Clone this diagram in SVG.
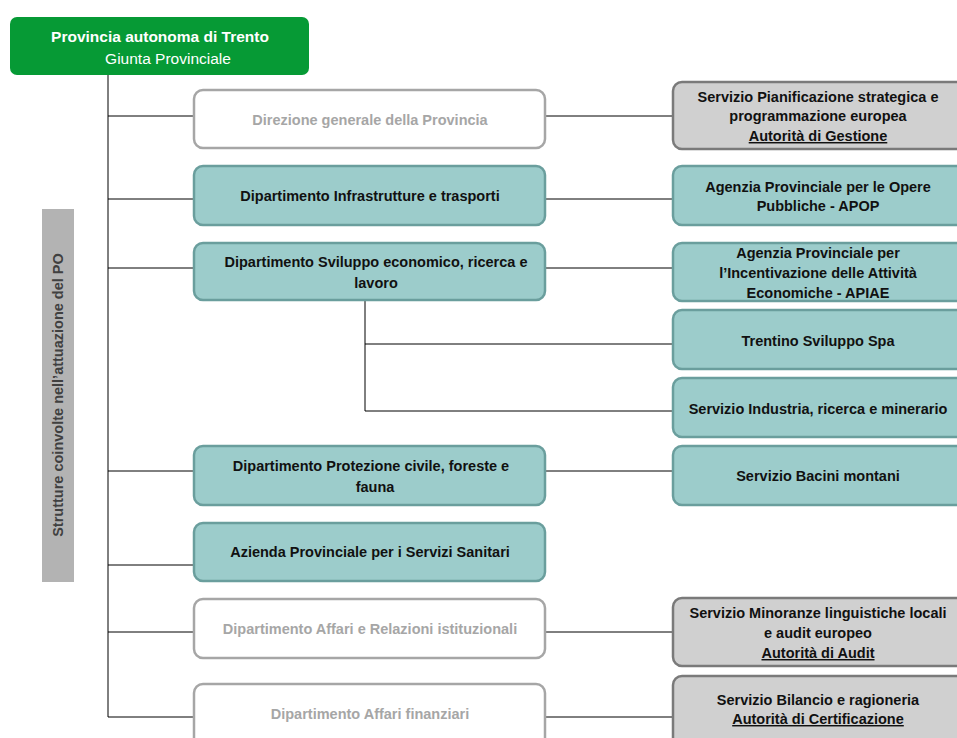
<svg xmlns="http://www.w3.org/2000/svg" width="957" height="738" viewBox="0 0 957 738">
<style>
text{font-family:"Liberation Sans",Arial,sans-serif;font-weight:bold;font-size:14.5px;text-anchor:middle}
.teal{fill:#9ccccb;stroke:#6a9e9d;stroke-width:2.5}
.white{fill:#ffffff;stroke:#a6a6a6;stroke-width:2.5}
.gray{fill:#d0d0d0;stroke:#7a7a7a;stroke-width:2.5}
.tk{fill:#111111}
.tg{fill:#a6a6a6}
.conn{stroke:#000;stroke-width:1;fill:none}
</style>
<rect width="957" height="738" fill="#ffffff"/>
<g id="connectors">
<path class="conn" d="M108 75V717M108 116H194M108 199H194M108 268H194M108 471H194M108 565H194M108 632H194M108 717H194"/>
<path class="conn" d="M545 116H673M545 199H673M545 268H673M365 300V411H673M365 344H673M545 471H673M545 632H673M545 717H673"/>
</g>
<g id="root">
<rect x="10" y="17" width="299" height="58" rx="7" fill="#069a35"/>
<text x="160" y="42" fill="#ffffff" style="font-size:15.5px">Provincia autonoma di Trento</text>
<text x="168" y="64" fill="#ffffff" style="font-size:15.5px;font-weight:normal">Giunta Provinciale</text>
</g>
<g id="sidebar">
<rect x="42" y="209" width="32" height="373" fill="#b3b3b3"/>
<text transform="translate(63 395) rotate(-90)" fill="#404040">Strutture coinvolte nell’attuazione del PO</text>
</g>
<g id="dir-generale"><rect class="white" x="194" y="90" width="351" height="58" rx="9"/><text class="tg" x="370" y="125">Direzione generale della Provincia</text></g>
<g id="dip-infrastrutture"><rect class="teal" x="194" y="166" width="351" height="59" rx="9"/><text class="tk" x="370" y="201">Dipartimento Infrastrutture e trasporti</text></g>
<g id="dip-sviluppo"><rect class="teal" x="194" y="243" width="351" height="57" rx="9"/><text class="tk" x="376" y="267">Dipartimento Sviluppo economico, ricerca e</text><text class="tk" x="376" y="288">lavoro</text></g>
<g id="dip-protezione"><rect class="teal" x="194" y="446" width="351" height="59" rx="9"/><text class="tk" x="371" y="471">Dipartimento Protezione civile, foreste e</text><text class="tk" x="375" y="492">fauna</text></g>
<g id="azienda-sanitaria"><rect class="teal" x="194" y="523" width="351" height="58" rx="9"/><text class="tk" x="370" y="557">Azienda Provinciale per i Servizi Sanitari</text></g>
<g id="dip-affari-relazioni"><rect class="white" x="194" y="599" width="351" height="59" rx="9"/><text class="tg" x="370" y="634">Dipartimento Affari e Relazioni istituzionali</text></g>
<g id="dip-affari-finanziari"><rect class="white" x="194" y="684" width="351" height="64" rx="9"/><text class="tg" x="370" y="719">Dipartimento Affari finanziari</text></g>
<g id="serv-pianificazione"><rect class="gray" x="673" y="82" width="292" height="67" rx="9"/><text class="tk" x="818" y="102">Servizio Pianificazione strategica e</text><text class="tk" x="818" y="121">programmazione europea</text><text class="tk" x="818" y="141" text-decoration="underline">Autorità di Gestione</text></g>
<g id="apop"><rect class="teal" x="673" y="166" width="292" height="59" rx="9"/><text class="tk" x="818" y="192">Agenzia Provinciale per le Opere</text><text class="tk" x="818" y="211">Pubbliche - APOP</text></g>
<g id="apiae"><rect class="teal" x="673" y="243" width="292" height="58" rx="9"/><text class="tk" x="818" y="258">Agenzia Provinciale per</text><text class="tk" x="818" y="278">l’Incentivazione delle Attività</text><text class="tk" x="818" y="298">Economiche - APIAE</text></g>
<g id="trentino-sviluppo"><rect class="teal" x="673" y="310" width="292" height="59" rx="9"/><text class="tk" x="818" y="346">Trentino Sviluppo Spa</text></g>
<g id="serv-industria"><rect class="teal" x="673" y="378" width="292" height="59" rx="9"/><text class="tk" x="818" y="414">Servizio Industria, ricerca e minerario</text></g>
<g id="serv-bacini"><rect class="teal" x="673" y="446" width="292" height="59" rx="9"/><text class="tk" x="818" y="481">Servizio Bacini montani</text></g>
<g id="serv-minoranze"><rect class="gray" x="673" y="598" width="292" height="68" rx="9"/><text class="tk" x="818" y="618">Servizio Minoranze linguistiche locali</text><text class="tk" x="818" y="638">e audit europeo</text><text class="tk" x="818" y="658" text-decoration="underline">Autorità di Audit</text></g>
<g id="serv-bilancio"><rect class="gray" x="673" y="676" width="292" height="72" rx="9"/><text class="tk" x="818" y="705">Servizio Bilancio e ragioneria</text><text class="tk" x="818" y="724" text-decoration="underline">Autorità di Certificazione</text></g>
</svg>
